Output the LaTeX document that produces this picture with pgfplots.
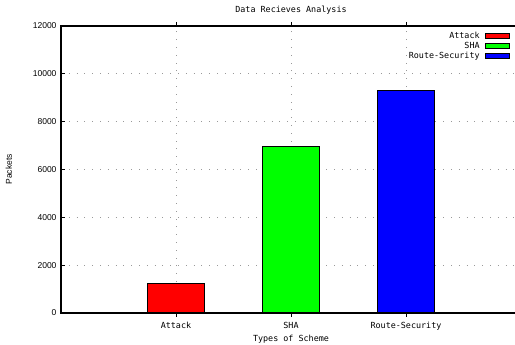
\documentclass[border=0pt]{standalone}
\usepackage{fontspec}
\setmainfont{Liberation Sans}
\newfontfamily\monofont{DejaVu Sans Mono}
\usepackage{pgfplots}
\pgfplotsset{compat=1.18}

\definecolor{gpred}{RGB}{255,0,0}
\definecolor{gpgreen}{RGB}{0,255,0}
\definecolor{gpblue}{RGB}{0,0,255}

\begin{document}
\begin{tikzpicture}[x=1pt,y=1pt]
\begin{axis}[
  at={(61pt,32pt)}, anchor=south west,
  scale only axis,
  width=460pt, height=287pt,
  xmin=0, xmax=4, ymin=0, ymax=12000,
  xtick={1,2,3},
  xticklabels={Attack,SHA,Route-Security},
  ytick={0,2000,4000,6000,8000,10000,12000},
  scaled y ticks=false,
  /pgf/number format/.cd, 1000 sep={}, assume math mode=true, /pgfplots/.cd,
  tick align=inside,
  major tick length=4pt,
  tick style={black, line width=0.8pt},
  xtick pos=both, ytick pos=left,
  axis line style={black, line width=1.3pt},
  grid=major,
  major grid style={gray!80, line width=0.8pt, dash pattern=on 0.8pt off 7pt},
  x tick label style={font=\monofont\fontsize{8.4}{10}\selectfont, yshift=-2pt},
  y tick label style={font=\fontsize{8.5}{10}\selectfont, xshift=-1pt},
  xlabel={Types of Scheme},
  ylabel={Packets},
  xlabel style={font=\monofont\fontsize{8.4}{10}\selectfont, yshift=2pt},
  ylabel style={font=\fontsize{8.5}{10}\selectfont, yshift=14pt},
  title={Data Recieves Analysis},
  title style={font=\monofont\fontsize{8.4}{10}\selectfont, yshift=2pt},
  ybar, bar shift=0pt, bar width=57.5pt,
  legend plot pos=right,
  legend style={draw=none, fill=none, at={(axis cs:3.93,11880)}, anchor=north east,
    font=\monofont\fontsize{8.4}{10}\selectfont,
    cells={anchor=east}, row sep=0pt,
    /tikz/every odd column/.append style={column sep=4pt},
    nodes={inner sep=1pt, text height=6.2pt, text depth=1.8pt}},
  legend image code/.code={\draw[#1, line width=1.1pt] (0pt,-2.3pt) rectangle (24pt,2.3pt);},
]
\addplot[draw=black, line width=1.1pt, fill=gpred] coordinates {(1,1250)};
\addlegendentry{Attack}
\addplot[draw=black, line width=1.1pt, fill=gpgreen] coordinates {(2,6950)};
\addlegendentry{SHA}
\addplot[draw=black, line width=1.1pt, fill=gpblue] coordinates {(3,9300)};
\addlegendentry{Route-Security}
\end{axis}
\pgfresetboundingbox
\useasboundingbox (0,0) rectangle (515,345);
\end{tikzpicture}
\end{document}
